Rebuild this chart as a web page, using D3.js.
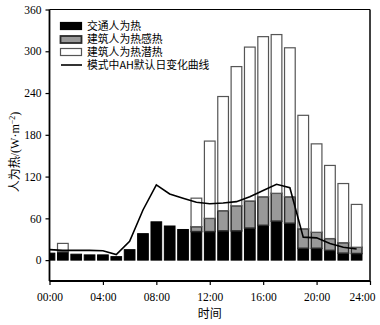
<!DOCTYPE html>
<html>
<head>
<meta charset="utf-8">
<script src="https://cdn.jsdelivr.net/npm/d3@7"></script>
<style>
  html, body { margin: 0; padding: 0; background: #fff; }
  svg { display: block; font-family: "Liberation Serif", "Noto Sans CJK SC", serif; }
</style>
</head>
<body>
<svg id="chart" width="380" height="325"></svg>
<script>
const hours = [0,1,2,3,4,5,6,7,8,9,10,11,12,13,14,15,16,17,18,19,20,21,22,23];
const traffic  = [10,12,8.5,7.5,7.5,5,15,38,55,49,44,41,41,42,42,46,50,56,53,17,17,14,10,9.5];
const sensible = [0,0,0,0,0,0,0,0,0,0,0,7,19,29,36,39,41,40,38,28,23,17,15,9];
const latent   = [0,12,0,0,0,0,0,0,0,0,0,41,111,164,200,221,230,228,214,163,127,105,85,61.5];
const defaultAH = [15,14,14,14,13.5,8,27,72,108,95,89,83,81,82,84,91,100,109,104,33,32,24,18.5,16];
const yTicks = [0,60,120,180,240,300,360];
const xTicks = [0,4,8,12,16,20,24];
const xTickLabels = ["00:00","04:00","08:00","12:00","16:00","20:00","24:00"];
const seriesNames = ["交通人为热","建筑人为热感热","建筑人为热潜热"];
const lineName = "模式中AH默认日变化曲线";

const svg = d3.select("#chart");
const x = d3.scaleLinear().domain([0,24]).range([49.5,370]);
const y = d3.scaleLinear().domain([-30,360]).range([281,9.5]);

const rows = hours.map((h,i) => ({h, traffic: traffic[i], sensible: sensible[i], latent: latent[i]}));
const stack = d3.stack().keys(["traffic","sensible","latent"])(rows);
const fills = ["#000000","#999999","#ffffff"];
const strokes = ["#000000","#2a2a2a","#555555"];
const strokeW = [1,1.5,1.2];

svg.append("defs").append("clipPath").attr("id","clip")
  .append("rect").attr("x",x(0)).attr("y",y(360)).attr("width",x(24)-x(0)).attr("height",y(-30)-y(360));

const bw = (x(1)-x(0))*0.8;
const plot = svg.append("g").attr("clip-path","url(#clip)");
stack.forEach((s,k) => {
  plot.append("g").selectAll("rect")
    .data(s.filter(d => d[1]-d[0] > 0))
    .join("rect")
    .attr("x", d => x(d.data.h) - bw/2)
    .attr("width", bw)
    .attr("y", d => y(d[1]))
    .attr("height", d => y(d[0]) - y(d[1]))
    .attr("fill", fills[k])
    .attr("stroke", strokes[k])
    .attr("stroke-width", strokeW[k]);
});

const line = d3.line().x((d,i) => x(hours[i])).y(d => y(d));
plot.append("path").datum(defaultAH)
  .attr("d", line).attr("fill","none").attr("stroke","#000").attr("stroke-width",1.6);

// frame
svg.append("line").attr("x1",x(0)).attr("x2",x(24)).attr("y1",y(360)).attr("y2",y(360)).attr("stroke","#000").attr("stroke-width",1);
svg.append("line").attr("x1",x(24)).attr("x2",x(24)).attr("y1",y(360)).attr("y2",y(-30)).attr("stroke","#000").attr("stroke-width",1.5);

// axes
const yAxis = d3.axisLeft(y).tickValues(yTicks).tickSize(4).tickPadding(4);
const gy = svg.append("g").attr("transform",`translate(${x(0)},0)`).call(yAxis);
gy.select(".domain").attr("d",`M0,${y(360)}V${y(-30)}`).attr("stroke-width",1.8);
gy.selectAll(".tick line").attr("stroke-width",1.2);
gy.selectAll("text").attr("font-size",11.5).attr("font-family","Liberation Serif").attr("fill","#000");

const xAxis = d3.axisBottom(x).tickValues(xTicks).tickFormat((d,i) => xTickLabels[i]).tickSize(4).tickPadding(8);
const gx = svg.append("g").attr("transform",`translate(0,${y(-30)})`).call(xAxis);
gx.select(".domain").attr("d",`M${x(0)},0H${x(24)}`).attr("stroke-width",1.8);
gx.selectAll(".tick line").attr("stroke-width",1.2);
gx.selectAll("text").attr("font-size",11.5).attr("font-family","Liberation Serif").attr("fill","#000");
gx.selectAll(".tick").filter(d => d === 24).select("text").attr("x",-8);

svg.append("text").attr("x",(x(0)+x(24))/2).attr("y",318).attr("text-anchor","middle")
  .attr("font-size",12).attr("font-family","Noto Sans CJK SC").text("时间");

const yl = svg.append("text").attr("transform","translate(19,152) rotate(-90)").attr("text-anchor","middle")
  .attr("font-size",12);
yl.append("tspan").attr("font-family","Noto Sans CJK SC").text("人为热");
yl.append("tspan").text("/(W·m");
yl.append("tspan").attr("font-size",8).attr("dy",-4).text("−2");
yl.append("tspan").attr("dy",4).text(")");

// legend
const lg = svg.append("g");
const ly = [22.5,36,48.5];
seriesNames.forEach((n,k) => {
  lg.append("rect").attr("x",60.5).attr("y",ly[k]).attr("width",21).attr("height",7)
    .attr("fill",fills[k]).attr("stroke",strokes[k]).attr("stroke-width",k===1?1.8:1.2);
  lg.append("text").attr("x",87).attr("y",ly[k]+3.5).attr("dy","0.35em")
    .attr("font-size",10.8).attr("font-family","Noto Sans CJK SC").text(n);
});
lg.append("line").attr("x1",61).attr("x2",82).attr("y1",65).attr("y2",65).attr("stroke","#000").attr("stroke-width",1.6);
lg.append("text").attr("x",87).attr("y",65).attr("dy","0.35em")
  .attr("font-size",10.8).attr("font-family","Noto Sans CJK SC").text(lineName);
</script>
</body>
</html>
